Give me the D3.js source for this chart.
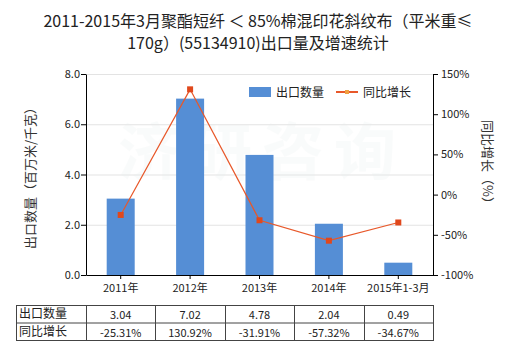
<!DOCTYPE html>
<html><head><meta charset="utf-8">
<script src="https://cdn.jsdelivr.net/npm/d3@7"></script>
<style>body{margin:0;background:#fff}svg{display:block}text{font-family:"Microsoft YaHei","Noto Sans CJK SC",sans-serif}</style>
</head><body><svg id="c" width="520" height="350"></svg>
<script>
const categories = ["2011年","2012年","2013年","2014年","2015年1-3月"];
const exportQty = [3.04, 7.02, 4.78, 2.04, 0.49];
const growth = [-25.31, 130.92, -31.91, -57.32, -34.67];
const qtyLabels = ["3.04","7.02","4.78","2.04","0.49"];
const growthLabels = ["-25.31%","130.92%","-31.91%","-57.32%","-34.67%"];
const leftTicks = [0,2,4,6,8];
const rightTicks = [-100,-50,0,50,100,150];

const svg = d3.select("#c");
const L = 86, R = 433, T = 74, B = 275;
const xc = d3.scaleBand().domain(categories).range([L, R]);
const y = d3.scaleLinear().domain([0, 8]).range([B, T]);
const y2 = d3.scaleLinear().domain([-100, 150]).range([B, T]);

// title
const title = svg.append("g").attr("font-size", 16).attr("fill", "#222").attr("text-anchor", "middle");
title.append("text").attr("x", 258).attr("y", 27).text("2011-2015年3月聚酯短纤 ＜ 85%棉混印花斜纹布（平米重≤");
title.append("text").attr("x", 258).attr("y", 49).text("170g）(55134910)出口量及增速统计");

// grid
svg.append("g").selectAll("line").data(leftTicks.filter(d => d > 0)).join("line")
  .attr("x1", L).attr("x2", R).attr("y1", d => y(d) + 0.5).attr("y2", d => y(d) + 0.5)
  .attr("stroke", "#e3e3e3");

// watermark
svg.append("text").attr("x", 262).attr("y", 175).attr("text-anchor", "middle")
  .attr("font-size", 62).attr("font-weight", "bold").attr("fill", "#e6eeee").attr("opacity", 0.2)
  .attr("letter-spacing", 10).text("济研咨询");

// bars
svg.append("g").selectAll("rect").data(exportQty).join("rect")
  .attr("x", (d, i) => xc(categories[i]) + xc.bandwidth() / 2 - 14)
  .attr("width", 28)
  .attr("y", d => y(d)).attr("height", d => B - y(d))
  .attr("fill", "#558ed5");

// line
const pts = growth.map((g, i) => [xc(categories[i]) + xc.bandwidth() / 2, y2(g)]);
svg.append("path").attr("d", d3.line()(pts)).attr("fill", "none").attr("stroke", "#e8582a").attr("stroke-width", 1.2);
svg.append("g").selectAll("rect").data(pts).join("rect")
  .attr("x", d => d[0] - 3).attr("y", d => d[1] - 3).attr("width", 6).attr("height", 6)
  .attr("fill", "#e0481c");

// axes
const axL = svg.append("g").attr("transform", `translate(${L},0)`)
  .call(d3.axisLeft(y).tickValues(leftTicks).tickFormat(d3.format(".1f")).tickSize(5).tickSizeOuter(0));
const axR = svg.append("g").attr("transform", `translate(${R},0)`)
  .call(d3.axisRight(y2).tickValues(rightTicks).tickFormat(d => d + "%").tickSize(5).tickSizeOuter(0));
const axB = svg.append("g").attr("transform", `translate(0,${B})`)
  .call(d3.axisBottom(xc).tickSize(4).tickSizeOuter(0));
[axL, axR, axB].forEach(a => {
  a.selectAll("path,line").attr("stroke", "#000");
  a.selectAll("text").attr("font-size", 11).attr("fill", "#222")
    .style("font-family", '"Microsoft YaHei","Noto Sans CJK SC",sans-serif');
});
axL.selectAll("text").attr("dx", 2);
axB.selectAll("text").attr("dy", "0.9em");

// axis titles
svg.append("text").attr("transform", "translate(35,175) rotate(-90)").attr("text-anchor", "middle")
  .attr("font-size", 13).attr("fill", "#333").text("出口数量（百万米/千克）");
svg.append("text").attr("transform", "translate(483,165) rotate(90)").attr("text-anchor", "middle")
  .attr("font-size", 13).attr("fill", "#333").text("同比增长（%）");

// legend
const lg = svg.append("g").attr("font-size", 12).attr("fill", "#222");
lg.append("rect").attr("x", 249).attr("y", 87).attr("width", 22).attr("height", 10).attr("fill", "#558ed5");
lg.append("text").attr("x", 276).attr("y", 97).text("出口数量");
lg.append("line").attr("x1", 336).attr("x2", 358).attr("y1", 92).attr("y2", 92).attr("stroke", "#e8582a").attr("stroke-width", 2);
lg.append("rect").attr("x", 345).attr("y", 90).attr("width", 4).attr("height", 4).attr("fill", "#f0a040");
lg.append("text").attr("x", 363).attr("y", 97).text("同比增长");

// table
const tT = 305, rh = 17.5, tL = 16;
const tb = svg.append("g");
tb.append("rect").attr("x", tL + 0.5).attr("y", tT + 0.5).attr("width", R - tL).attr("height", rh * 2)
  .attr("fill", "none").attr("stroke", "#444");
tb.append("line").attr("x1", tL).attr("x2", R).attr("y1", tT + rh + 0.5).attr("y2", tT + rh + 0.5).attr("stroke", "#444");
tb.selectAll("line.v").data(categories).join("line").attr("class", "v")
  .attr("x1", c => Math.round(xc(c)) + 0.5).attr("x2", c => Math.round(xc(c)) + 0.5)
  .attr("y1", tT).attr("y2", tT + rh * 2).attr("stroke", "#444");
const rows = [["出口数量", qtyLabels], ["同比增长", growthLabels]];
rows.forEach((r, ri) => {
  const yy = tT + rh * ri + 13;
  tb.append("text").attr("x", tL + 3).attr("y", yy).attr("font-size", 12).attr("fill", "#222").text(r[0]);
  tb.selectAll(null).data(r[1]).join("text")
    .attr("x", (d, i) => xc(categories[i]) + xc.bandwidth() / 2).attr("y", yy + 1)
    .attr("text-anchor", "middle").attr("font-size", 11).attr("fill", "#222").text(d => d);
});
</script></body></html>
